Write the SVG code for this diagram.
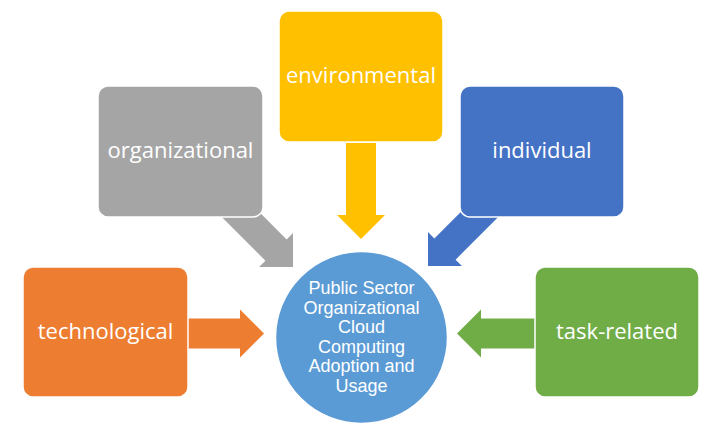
<svg xmlns="http://www.w3.org/2000/svg" width="716" height="439" viewBox="0 0 716 439">
<style>
.box{stroke:#ffffff;stroke-width:1.5}
.lbl{font-family:"Open Sans","Liberation Sans",sans-serif;font-size:22px;fill:#ffffff;text-anchor:middle}
.ctr{font-family:"Liberation Sans",Arial,sans-serif;font-size:18px;fill:#ffffff;text-anchor:middle}
</style>
<rect width="716" height="439" fill="#ffffff"/>
<g id="connectors">
<path fill="#FFC000" transform="translate(361,239) rotate(90)" d="M0,0 L-24,-24 L-24,-15 L-96,-15 L-96,15 L-24,15 L-24,24 Z"/>
<path fill="#A5A5A5" transform="translate(293,267) rotate(45)" d="M0,0 L-24,-24 L-24,-15 L-90,-15 L-90,15 L-24,15 L-24,24 Z"/>
<path fill="#4472C4" transform="translate(428,266) rotate(135)" d="M0,0 L-24,-24 L-24,-15 L-90,-15 L-90,15 L-24,15 L-24,24 Z"/>
<path fill="#ED7D31" transform="translate(264,333.5)" d="M0,0 L-24,-24 L-24,-15 L-78,-15 L-78,15 L-24,15 L-24,24 Z"/>
<path fill="#70AD47" transform="translate(457,333.5) rotate(180)" d="M0,0 L-24,-24 L-24,-15 L-80,-15 L-80,15 L-24,15 L-24,24 Z"/>
</g>
<g id="environmental">
<rect class="box" x="279" y="11" width="164" height="131" rx="10" fill="#FFC000"/>
<text class="lbl" x="361" y="83">environmental</text>
</g>
<g id="organizational">
<rect class="box" x="98" y="86" width="165" height="131" rx="10" fill="#A5A5A5"/>
<text class="lbl" x="180.5" y="158">organizational</text>
</g>
<g id="individual">
<rect class="box" x="460" y="86" width="164" height="131" rx="10" fill="#4472C4"/>
<text class="lbl" x="542" y="158">individual</text>
</g>
<g id="technological">
<rect class="box" x="23" y="267" width="165" height="130" rx="10" fill="#ED7D31"/>
<text class="lbl" x="105.5" y="339">technological</text>
</g>
<g id="task-related">
<rect class="box" x="535" y="267" width="164" height="130" rx="10" fill="#70AD47"/>
<text class="lbl" x="617" y="339">task-related</text>
</g>
<g id="center">
<circle cx="361.5" cy="337.5" r="86" fill="#5B9BD5" stroke="#ffffff" stroke-width="1.5"/>
<text class="ctr" x="361.5" y="294">Public Sector</text>
<text class="ctr" x="361.5" y="313.5">Organizational</text>
<text class="ctr" x="361.5" y="333">Cloud</text>
<text class="ctr" x="361.5" y="352.5">Computing</text>
<text class="ctr" x="361.5" y="372">Adoption and</text>
<text class="ctr" x="361.5" y="391.5">Usage</text>
</g>
</svg>
